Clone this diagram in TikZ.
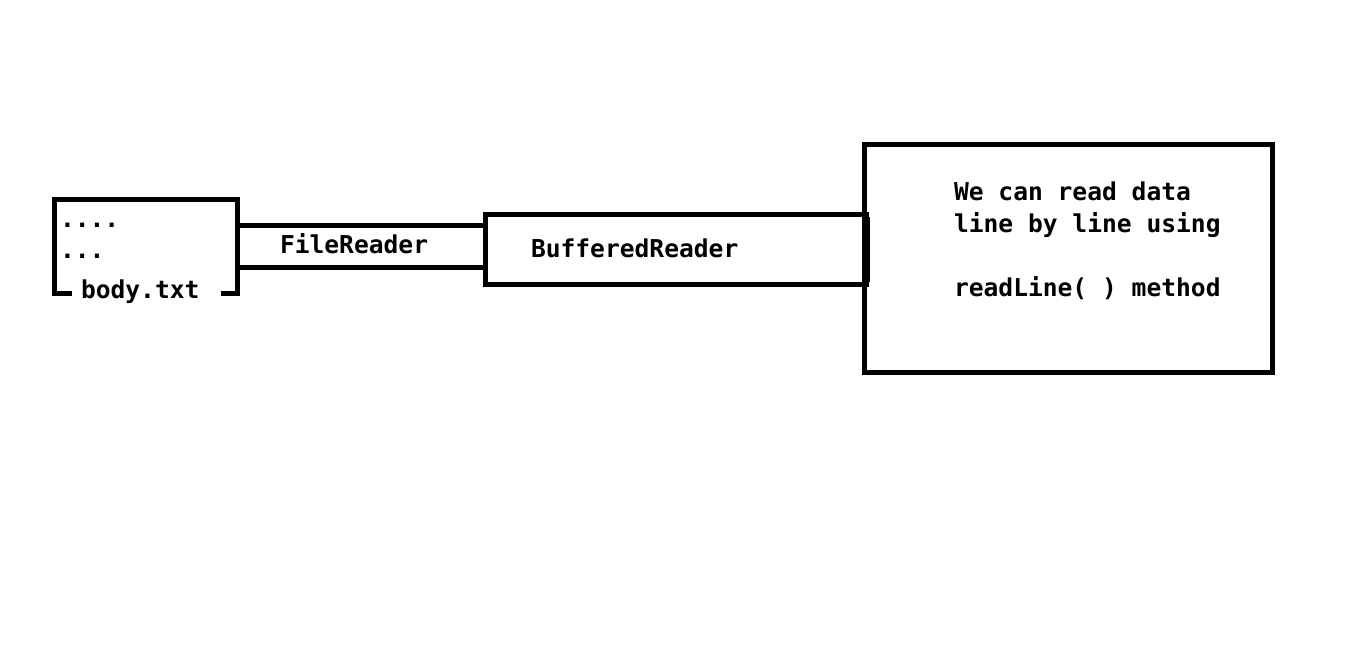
\documentclass[tikz,border=0pt]{standalone}
\usepackage{fontspec}
\setmonofont{DejaVu Sans Mono}
\usetikzlibrary{calc}
\begin{document}
\begin{tikzpicture}[x=1pt,y=-1pt,
  frame/.style={draw=black,line width=5pt,line join=miter,rectangle,inner sep=0pt,outer sep=0pt},
  ghost/.style={rectangle,inner sep=0pt,outer sep=0pt},
  txt/.style={font=\ttfamily\bfseries\fontsize{24.6}{32}\selectfont,inner sep=0pt,outer sep=0pt,anchor=base west},
  edge/.style={draw=black,line width=5pt}]
\useasboundingbox[fill=white] (0,0) rectangle (1359,654);
% file box (open at bottom for label)
\node[ghost,minimum width=182.5pt,minimum height=93.5pt] (body) at (145.75,246.25) {};
\draw[edge,line join=miter] ($(body.south west)+(17.5,0)$) -- (body.south west) -- (body.north west) -- (body.north east) -- (body.south east) -- ($(body.south east)+(-16,0)$);
\node[txt] (dots1) at (60,227) {....};
\node[txt] (dots2) at (60,258) {...};
\node[txt] (bodylbl) at (81,298) {body.txt};
% BufferedReader box
\node[frame,minimum width=380.5pt,minimum height=70pt] (buf) at (675.75,249.5) {};
\draw[draw=black,line width=8pt] ($(buf.north east)+(0,2.5)$) -- ($(buf.south east)+(0,-2.5)$);
\node[txt] (buflbl) at (531,257) {BufferedReader};
% FileReader pipe
\node[ghost,minimum width=248.5pt,minimum height=42pt] (fr) at (361.25,246.5) {};
\draw[edge] (fr.north west) -- (fr.north east);
\draw[edge] (fr.south west) -- (fr.south east);
\node[txt] (frlbl) at (280,253) {FileReader};
% note box
\node[frame,minimum width=408pt,minimum height=228pt] (note) at (1068.5,258.5) {};
\node[txt] (l1) at (954,200) {We can read data};
\node[txt] (l2) at (954,232) {line by line using};
\node[txt] (l3) at (954,296) {readLine( ) method};
\end{tikzpicture}
\end{document}
